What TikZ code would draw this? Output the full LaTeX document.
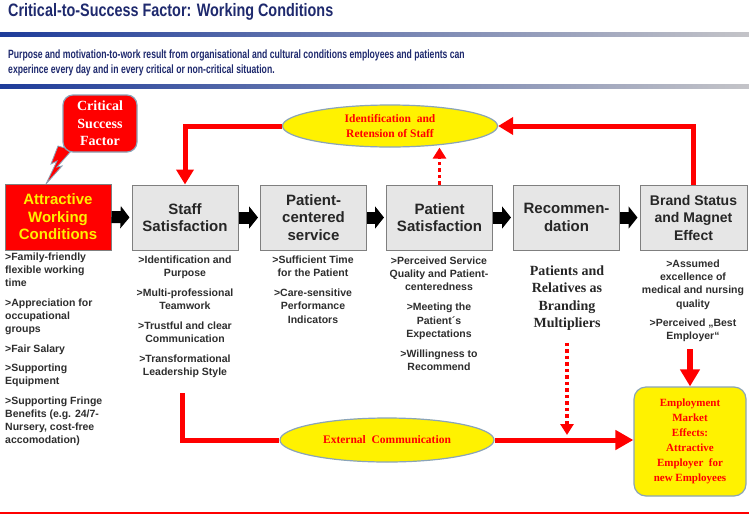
\documentclass[tikz,border=0pt]{standalone}
\usepackage{fontspec}
\setmainfont{Liberation Serif}
\setsansfont{Liberation Sans}
\newfontfamily\arialf{Liberation Sans}
\newfontfamily\titlef[FakeStretch=0.8]{Liberation Sans}
\newfontfamily\subf[FakeStretch=0.72]{Liberation Sans}
\newfontfamily\serf{Liberation Serif}
\usetikzlibrary{arrows.meta,shapes.geometric,calc}
\definecolor{navy}{HTML}{1F2A6E}
\definecolor{gradblue}{HTML}{1E3C9A}
\definecolor{gradgray}{HTML}{C4C4C8}
\definecolor{boxfill}{HTML}{E6E6E6}
\definecolor{boxborder}{HTML}{7F7F7F}
\definecolor{darktext}{HTML}{262626}
\definecolor{listtext}{HTML}{2E2E2E}
\definecolor{ellborder}{HTML}{8AA4B8}
\definecolor{attyellow}{HTML}{FFF000}
\tikzset{
  stepbox/.style={draw=boxborder, fill=boxfill, line width=1pt, minimum width=106pt, minimum height=65pt,
    inner sep=1pt, align=center, text=darktext, font=\arialf\bfseries\fontsize{15}{17.5}\selectfont},
  blk/.style={draw=black, line width=12pt, -{Triangle[width=22pt,length=9pt]}, shorten >=2pt},
  redline/.style={draw=red, line width=5pt},
  redarr/.style={redline, -{Triangle[width=17pt,length=15pt]}},
  reddot/.style={draw=red, line width=3.5pt, dash pattern=on 3.5pt off 3pt, -{Triangle[width=13pt,length=11pt]}},
  lst/.style={font=\arialf\bfseries\fontsize{10.5}{13.3}\selectfont, text=listtext, inner sep=0pt, align=center},
  yell/.style={ellipse, draw=ellborder, fill=yellow, line width=1.2pt, inner sep=0pt, text=red,
    align=center, font=\serf\bfseries\fontsize{11.5}{14.5}\selectfont},
}
\begin{document}
\begin{tikzpicture}[x=1pt,y=-1pt]
\useasboundingbox (0,0) rectangle (749,517);
\fill[white] (0,0) rectangle (749,517);

% header
\node[anchor=west, inner sep=0pt, text=navy, font=\titlef\bfseries\fontsize{18}{20}\selectfont] (title) at (8,11.5) {Critical-to-Success Factor: Working Conditions};
\shade[left color=gradblue, right color=gradgray] (0,32.5) rectangle (749,36.5);
\node[anchor=north west, inner sep=0pt, text=navy, align=left, font=\subf\bfseries\fontsize{12}{15}\selectfont] (sub) at (8,49.5)
  {Purpose and motivation-to-work result from organisational and cultural conditions employees and patients can\\experince every day and in every critical or non-critical situation.};
\shade[left color=gradblue, right color=gradgray] (0,84.5) rectangle (749,88.5);

% critical success factor callout
\filldraw[fill=red, draw=ellborder, line width=0.8pt] (58,146) -- (51,164) -- (57,161) -- (46,184) -- (62,166) -- (57,167) -- (72,150) -- cycle;
\node[draw=ellborder, fill=red, line width=1.2pt, rounded corners=10pt, minimum width=74pt, minimum height=57pt,
  inner sep=0pt, align=center, text=white, font=\serf\bfseries\fontsize{14}{17.3}\selectfont] (csf) at (100,123.5) {Critical\\Success\\Factor};

% main chain
\node[stepbox, fill=red, draw=boxborder, text=attyellow, minimum height=66pt] (att) at (58,217) {Attractive\\Working\\Conditions};
\node[stepbox] (staff) at (185,217.5) {Staff\\Satisfaction};
\node[stepbox] (pcs) at (313.5,217.5) {Patient-\\centered\\service};
\node[stepbox] (ps) at (439.5,217.5) {Patient\\Satisfaction};
\node[stepbox] (rec) at (566.5,217.5) {Recommen-\\dation};
\node[stepbox, font=\arialf\bfseries\fontsize{14}{17.5}\selectfont, minimum width=107pt] (brand) at (693.5,217.5) {Brand Status\\and Magnet\\Effect};

\draw[blk] (att.east) -- (staff.west);
\draw[blk] (staff.east) -- (pcs.west);
\draw[blk] (pcs.east) -- (ps.west);
\draw[blk] (ps.east) -- (rec.west);
\draw[blk] (rec.east) -- (brand.west);

% top ellipse and loop
\node[yell, minimum width=215pt, minimum height=42pt] (idr) at (390,126) {Identification~~and\\Retension of Staff};
\draw[redarr] (brand.north) |- (idr.east);
\draw[redarr] (idr.west) -| (staff.north);
\draw[reddot] (ps.north) -- (idr.south -| ps.north);

% lists
\node[lst, anchor=north west, align=left] (l1) at (5,252.5)
  {>Family-friendly\\flexible working\\time\\[6pt]>Appreciation for\\occupational\\groups\\[6pt]>Fair Salary\\[6pt]>Supporting\\Equipment\\[6pt]>Supporting Fringe\\Benefits (e.g. 24/7-\\Nursery, cost-free\\accomodation)};
\node[lst, anchor=north] (l2) at (185,255.5)
  {>Identification and\\Purpose\\[6.5pt]>Multi-professional\\Teamwork\\[6.5pt]>Trustful and clear\\Communication\\[6.5pt]>Transformational\\Leadership Style};
\node[lst, anchor=north] (l3) at (313,255.5)
  {>Sufficient Time\\for the Patient\\[6.5pt]>Care-sensitive\\Performance\\Indicators};
\node[lst, anchor=north] (l4) at (439,256.5)
  {>Perceived Service\\Quality and Patient-\\centeredness\\[6.5pt]>Meeting the\\Patient´s\\Expectations\\[6.5pt]>Willingness to\\Recommend};
\node[lst, anchor=north] (l6) at (693,259.5)
  {>Assumed\\excellence of\\medical and nursing\\quality\\[6pt]>Perceived „Best\\Employer“};
\node[inner sep=0pt, align=center, text=darktext, font=\serf\bfseries\fontsize{14}{17.5}\selectfont] (pr) at (567,298)
  {Patients and\\Relatives as\\Branding\\Multipliers};

% employment box
\node[draw=ellborder, fill=yellow, line width=1.2pt, rounded corners=12pt, minimum width=112pt, minimum height=109pt,
  inner sep=0pt, align=center, text=red, font=\serf\bfseries\fontsize{11}{15}\selectfont] (emp) at (690,441.5)
  {Employment\\Market\\Effects:\\Attractive\\Employer~~for\\new Employees};

\draw[draw=red, line width=6.5pt, -{Triangle[width=19pt,length=17pt]}, shorten <=7pt] (l6.south -| emp.north) -- (emp.north);

% bottom communication line
\coordinate (ls) at (182,393);
\node[yell, minimum width=214pt, minimum height=44pt] (ext) at (387,440) {External~~Communication};
\draw[redline] (ls) |- (ext.west);
\draw[redline, -{Triangle[width=19pt,length=18pt]}] (ext.east) -- (ext.east -| emp.west);
\draw[reddot, shorten >=5pt, shorten <=12pt] (pr.south) -- (pr.south |- ext.east);

% bottom rule
\draw[red, line width=2.5pt] (0,513) -- (749,513);
\end{tikzpicture}
\end{document}
